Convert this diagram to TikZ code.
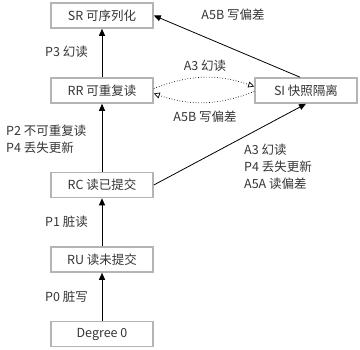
\documentclass[tikz,border=0pt]{standalone}
\usepackage{fontspec}
\setmainfont{Noto Sans CJK SC}
\usepackage{xcolor}
\usetikzlibrary{arrows.meta}
\definecolor{boxgray}{HTML}{B4B4B4}
\definecolor{txtgray}{HTML}{353535}

\begin{document}
\begin{tikzpicture}[x=1pt, y=-1pt, font=\fontsize{12.5}{17}\selectfont, text=txtgray,
  level/.style={draw=boxgray, line width=1.6pt, fill=white, minimum width=102pt, minimum height=25pt, inner sep=0pt},
  up/.style={-{Triangle[length=7pt, width=6pt]}, line width=0.8pt},
  weak/.style={dotted, line width=0.7pt, -{Triangle[open, length=6pt, width=6pt]}},
  tag/.style={align=left, anchor=west, inner sep=0pt}]
\useasboundingbox (0,0) rectangle (360,350);

% Isolation levels
\node[level] (sr) at (102, 15.5) {SR 可序列化};
\node[level] (rr) at (102, 90.5) {RR 可重复读};
\node[level] (si) at (306, 90.5) {SI 快照隔离};
\node[level] (rc) at (102, 185) {RC 读已提交};
\node[level] (ru) at (102, 259.5) {RU 读未提交};
\node[level] (d0) at (102, 334) {Degree 0};

% Main chain
\draw[up] (d0) -- (ru);
\draw[up] (ru) -- (rc);
\draw[up] (rc) -- (rr);
\draw[up] (rr) -- (sr);
\draw[up] (rc.east) -- (si.south);
\draw[up] ([xshift=-6pt]si.north) -- (sr.east);

% Incomparable pair
\draw[weak] ([yshift=2pt]rr.east) to[bend left=20] ([yshift=4pt]si.west);
\draw[weak] ([yshift=-1pt]si.west) to[bend left=20] ([yshift=-3pt]rr.east);

% Anomaly labels
\node[tag] (lp0) at (45, 297) {P0 脏写};
\node[tag] (lp1) at (45, 222) {P1 脏读};
\node[tag] (lp2) at (6, 139) {P2 不可重复读\\P4 丢失更新};
\node[tag] (lp3) at (45, 52) {P3 幻读};
\node (la5) at (233, 15) {A5B 写偏差};
\node (la3) at (205, 66) {A3 幻读};
\node (lsk) at (205, 117) {A5B 写偏差};
\node[tag] (lsi) at (244, 166.5) {A3 幻读\\P4 丢失更新\\A5A 读偏差};
\end{tikzpicture}
\end{document}
